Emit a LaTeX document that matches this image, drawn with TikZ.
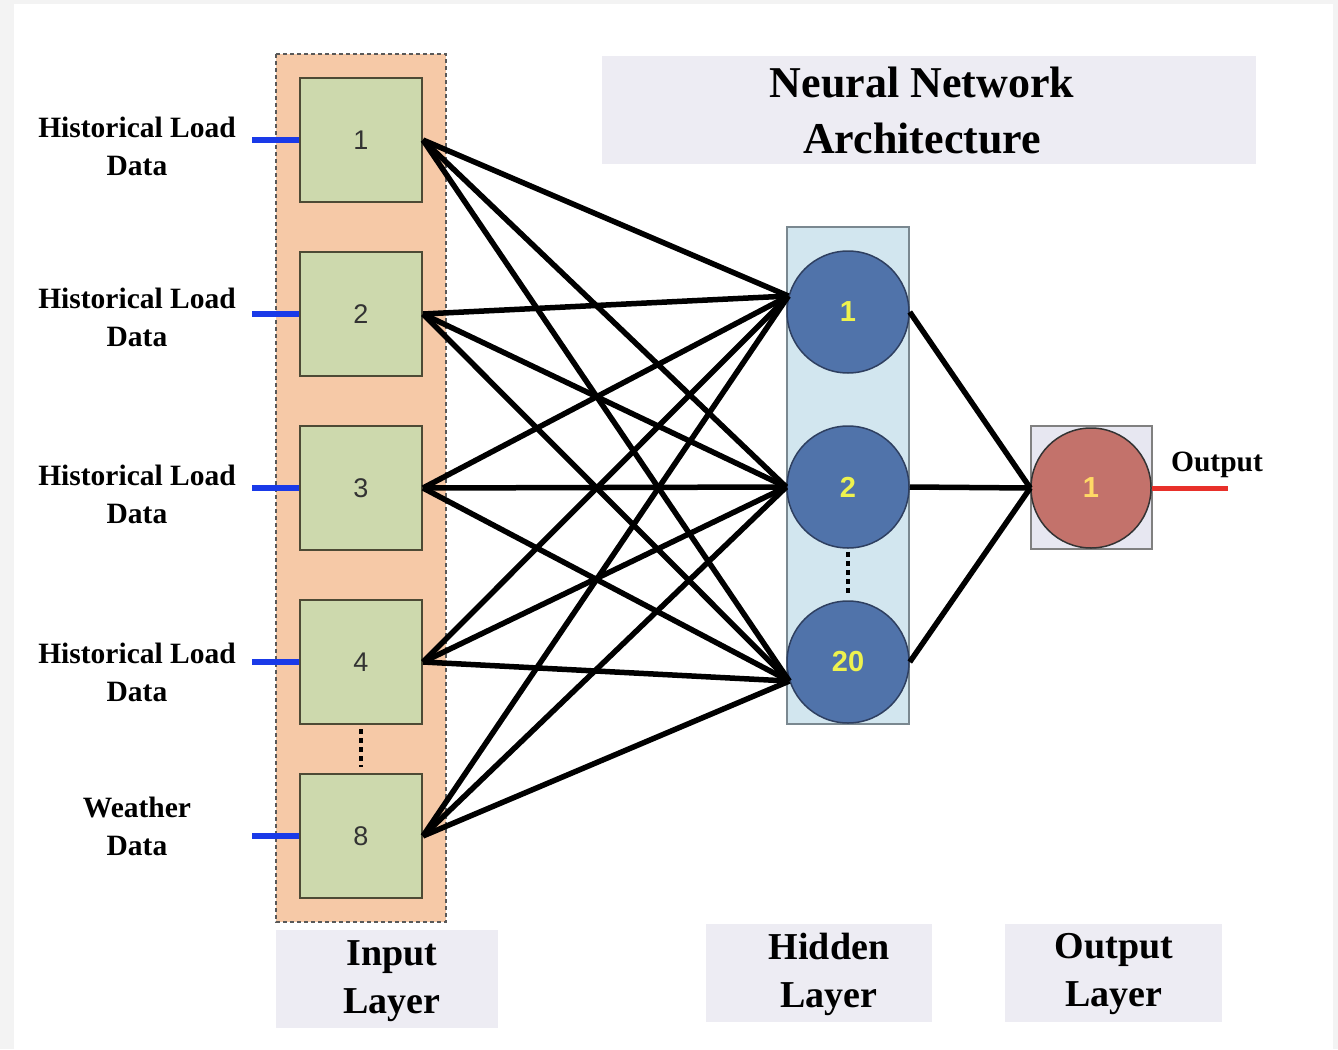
\documentclass[tikz,border=0pt]{standalone}
\usepackage{fontspec}
\usetikzlibrary{calc}
\setmainfont{Liberation Serif}
\newfontfamily\arialfont{Liberation Sans}

\definecolor{pagegray}{HTML}{F3F3F3}
\definecolor{inpeach}{HTML}{F6C9A7}
\definecolor{ingreen}{HTML}{CDD9AD}
\definecolor{inborder}{HTML}{4D4A35}
\definecolor{numgray}{HTML}{333333}
\definecolor{hidfill}{HTML}{D2E6EF}
\definecolor{hidframe}{HTML}{7A8890}
\definecolor{hblue}{HTML}{5073AA}
\definecolor{hborder}{HTML}{2E3F60}
\definecolor{hyellow}{HTML}{EEF24E}
\definecolor{outfill}{HTML}{E7E7F1}
\definecolor{outframe}{HTML}{808080}
\definecolor{outred}{HTML}{C3726B}
\definecolor{outyellow}{HTML}{FFD966}
\definecolor{captionfill}{HTML}{EDECF3}
\definecolor{feedblue}{HTML}{1A3AE8}
\definecolor{outline}{HTML}{E8302A}

\begin{document}
\begin{tikzpicture}[x=1pt,y=-1pt,
  inbox/.style={draw=inborder, line width=2pt, fill=ingreen,
    minimum width=122pt, minimum height=124pt, inner sep=0pt,
    font=\arialfont\fontsize{27}{27}\selectfont, text=numgray},
  hnode/.style={circle, draw=hborder, line width=1.5pt, fill=hblue,
    minimum size=122pt, inner sep=0pt,
    font=\arialfont\bfseries\fontsize{29}{29}\selectfont, text=hyellow},
  onode/.style={circle, draw=black!80, line width=1.5pt, fill=outred,
    minimum size=120pt, inner sep=0pt,
    font=\arialfont\bfseries\fontsize{29}{29}\selectfont, text=outyellow},
  link/.style={line width=5.5pt, black},
  feed/.style={line width=6pt, feedblue},
  dotgap/.style={line width=3.5pt, black, dash pattern=on 5pt off 4pt},
  srclabel/.style={font=\bfseries\fontsize{29.5}{38}\selectfont, align=center},
  captext/.style={align=center, font=\bfseries\fontsize{38}{48}\selectfont},
]
\useasboundingbox (0,0) rectangle (1338,1049);
\fill[pagegray] (0,0) rectangle (1338,1049);
\fill[white] (14,4) rectangle (1333,1049);

% layer frames
\draw[draw=black!65, line width=2pt, dash pattern=on 4pt off 3pt, fill=inpeach]
  (276,54) rectangle (446,922);
\draw[draw=hidframe, line width=2pt, fill=hidfill] (787,227) rectangle (909,724);
\draw[draw=outframe, line width=2pt, fill=outfill] (1031,426) rectangle (1152,549);

% title and layer captions
\fill[captionfill] (602,56) rectangle (1256,164);
\fill[captionfill] (276,930) rectangle (498,1028);
\fill[captionfill] (706,924) rectangle (932,1022);
\fill[captionfill] (1005,924) rectangle (1222,1022);
\node[align=center, font=\bfseries\fontsize{44}{56}\selectfont] (title) at (922,111)
  {Neural Network\\Architecture};
\node[captext] (capin) at (392,981) {Input\\Layer};
\node[captext] (caphid) at (829,974) {Hidden\\Layer};
\node[captext] (capout) at (1114,974) {Output\\Layer};

% input layer
\node[inbox] (i1) at (361,140) {1};
\node[inbox] (i2) at (361,314) {2};
\node[inbox] (i3) at (361,488) {3};
\node[inbox] (i4) at (361,662) {4};
\node[inbox] (i8) at (361,836) {8};
\draw[dotgap] ($(i4.south)+(0,4)$) -- ($(i8.north)+(0,-6)$);

% hidden layer
\node[hnode] (h1) at (848,312) {1};
\node[hnode] (h2) at (848,487) {2};
\node[hnode] (h20) at (848,662) {20};
\draw[dotgap] ($(h2.south)+(0,3)$) -- ($(h20.north)+(0,-6)$);

% output layer
\node[onode] (o1) at (1091,488) {1};

% source labels and input feeds
\node[srclabel] (l1) at (137,146) {Historical Load\\Data};
\node[srclabel] (l2) at (137,317) {Historical Load\\Data};
\node[srclabel] (l3) at (137,494) {Historical Load\\Data};
\node[srclabel] (l4) at (137,672) {Historical Load\\Data};
\node[srclabel] (l8) at (137,826) {Weather\\Data};
\foreach \n in {i1,i2,i3,i4,i8}
  \draw[feed] (\n.west) -- ++(-47,0);

% fully connected weights
\foreach \n in {i1,i2,i3,i4,i8} {
  \draw[link] (\n.east) -- (h1.165);
  \draw[link] (\n.east) -- (h2.west);
  \draw[link] (\n.east) -- (h20.198);
}
\foreach \n in {h1,h2,h20}
  \draw[link] (\n.east) -- (o1.west);

% network output
\coordinate (outend) at (1228,488);
\draw[line width=5pt, outline] (o1.east) -- (outend);
\node[font=\bfseries\fontsize{29.5}{36}\selectfont] (outlbl) at (1217,465) {Output};
\end{tikzpicture}
\end{document}
